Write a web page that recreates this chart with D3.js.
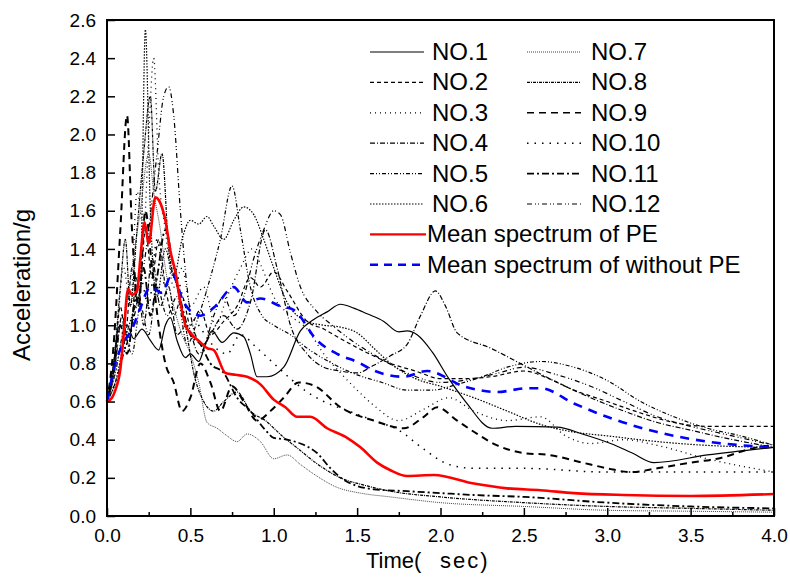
<!DOCTYPE html>
<html>
<head>
<meta charset="utf-8">
<script src="https://cdn.jsdelivr.net/npm/d3@7/dist/d3.min.js"></script>
<style>
  body { margin: 0; background: #fff; }
  svg text { font-family: "Liberation Sans", Arial, sans-serif; fill: #000; }
</style>
</head>
<body>
<svg width="790" height="588"></svg>
<script>
// Response spectra: [period (sec), acceleration (g)]
const no1 = [[0,0.6],[0.04,0.8],[0.07,0.99],[0.12,1.0],[0.16,0.93],[0.21,0.98],[0.26,0.92],[0.31,0.87],[0.35,1.0],[0.38,1.04],[0.42,0.92],[0.47,0.83],[0.5,0.85],[0.55,0.81],[0.59,0.9],[0.63,0.97],[0.69,0.91],[0.76,0.96],[0.82,0.94],[0.86,0.85],[0.9,0.73],[0.96,0.73],[1.06,0.78],[1.16,0.97],[1.24,1.03],[1.32,1.07],[1.4,1.11],[1.48,1.09],[1.56,1.06],[1.66,1.02],[1.75,0.965],[1.8,0.97],[1.86,0.95],[1.95,0.86],[2.05,0.72],[2.15,0.6],[2.31,0.46],[2.45,0.47],[2.7,0.466],[2.85,0.43],[3.02,0.38],[3.15,0.33],[3.28,0.28],[3.6,0.32],[4.0,0.36]];
const no2 = [[0,0.6],[0.04,0.75],[0.08,1.1],[0.11,0.95],[0.15,1.3],[0.19,1.1],[0.23,1.5],[0.27,1.25],[0.31,1.45],[0.35,1.2],[0.4,1.05],[0.45,1.15],[0.5,1.0],[0.56,1.08],[0.62,0.95],[0.7,1.02],[0.78,1.1],[0.86,1.25],[0.92,1.2],[1.0,1.28],[1.08,1.18],[1.2,1.02],[1.3,0.98],[1.4,0.93],[1.55,0.86],[1.7,0.8],[1.85,0.76],[2.0,0.72],[2.15,0.72],[2.3,0.73],[2.5,0.76],[2.65,0.72],[2.8,0.66],[3.0,0.6],[3.2,0.54],[3.4,0.49],[3.6,0.47],[4.0,0.47]];
const no3 = [[0,0.6],[0.05,0.85],[0.1,1.3],[0.14,1.1],[0.18,1.7],[0.22,1.5],[0.25,2.0],[0.28,2.4],[0.31,1.8],[0.35,1.5],[0.4,1.2],[0.45,1.3],[0.5,1.1],[0.58,1.2],[0.65,1.0],[0.72,1.15],[0.8,1.3],[0.87,1.4],[0.93,1.3],[1.0,1.15],[1.1,1.05],[1.2,0.98],[1.3,0.85],[1.4,0.75],[1.5,0.66],[1.6,0.58],[1.75,0.5],[1.9,0.56],[2.05,0.62],[2.2,0.55],[2.4,0.5],[2.6,0.52],[2.75,0.42],[2.9,0.38],[3.1,0.4],[3.3,0.37],[3.6,0.3],[4.0,0.23]];
const no4 = [[0,0.6],[0.05,0.8],[0.09,1.05],[0.13,0.9],[0.18,1.25],[0.22,1.0],[0.27,1.35],[0.32,1.1],[0.37,1.2],[0.42,0.95],[0.48,1.0],[0.55,0.85],[0.62,0.95],[0.7,1.05],[0.78,0.98],[0.86,1.12],[0.95,1.5],[1.02,1.3],[1.1,1.0],[1.2,0.85],[1.3,0.78],[1.4,0.76],[1.5,0.75],[1.6,0.79],[1.7,0.84],[1.8,0.9],[1.88,1.05],[1.97,1.18],[2.03,1.1],[2.1,0.96],[2.3,0.88],[2.5,0.79],[2.7,0.7],[2.9,0.62],[3.1,0.55],[3.3,0.49],[3.5,0.45],[3.7,0.41],[4.0,0.36]];
const no5 = [[0,0.6],[0.05,0.75],[0.1,0.95],[0.15,0.85],[0.2,1.1],[0.25,0.95],[0.3,1.2],[0.36,1.05],[0.42,1.15],[0.48,0.9],[0.55,1.05],[0.62,1.25],[0.68,1.45],[0.75,1.73],[0.8,1.5],[0.86,1.2],[0.93,1.05],[1.0,1.0],[1.1,0.95],[1.2,0.88],[1.35,0.8],[1.5,0.74],[1.65,0.7],[1.8,0.66],[1.95,0.66],[2.1,0.69],[2.25,0.73],[2.4,0.78],[2.6,0.81],[2.8,0.78],[3.0,0.71],[3.2,0.6],[3.4,0.52],[3.6,0.46],[3.8,0.42],[4.0,0.37]];
const no6 = [[0,0.6],[0.05,0.7],[0.1,0.9],[0.15,1.05],[0.2,1.2],[0.23,2.55],[0.26,1.6],[0.3,1.15],[0.35,1.4],[0.4,1.25],[0.45,1.45],[0.5,1.55],[0.55,1.53],[0.6,1.57],[0.64,1.52],[0.7,1.45],[0.76,1.55],[0.82,1.62],[0.88,1.58],[0.94,1.45],[1.0,1.3],[1.08,1.12],[1.2,1.02],[1.3,1.0],[1.4,0.99],[1.5,0.96],[1.6,0.88],[1.7,0.8],[1.85,0.72],[2.0,0.68],[2.2,0.62],[2.4,0.55],[2.6,0.48],[2.8,0.44],[3.0,0.42],[3.3,0.39],[3.6,0.37],[4.0,0.36]];
const no7 = [[0,0.6],[0.05,0.75],[0.1,1.0],[0.15,1.3],[0.2,1.6],[0.25,1.9],[0.28,1.7],[0.32,1.5],[0.35,1.3],[0.4,1.1],[0.45,0.95],[0.5,0.85],[0.55,0.7],[0.6,0.49],[0.66,0.46],[0.72,0.42],[0.78,0.39],[0.84,0.43],[0.92,0.39],[1.0,0.3],[1.08,0.32],[1.16,0.27],[1.24,0.22],[1.38,0.15],[1.52,0.12],[1.7,0.1],[2.0,0.07],[2.5,0.05],[3.0,0.03],[3.5,0.025],[4.0,0.02]];
const no8 = [[0,0.6],[0.04,0.8],[0.08,1.2],[0.11,1.45],[0.14,1.1],[0.18,1.5],[0.22,1.9],[0.26,2.2],[0.29,1.7],[0.33,1.9],[0.37,1.4],[0.42,1.2],[0.47,1.0],[0.52,0.75],[0.58,0.6],[0.64,0.55],[0.7,0.6],[0.78,0.65],[0.86,0.55],[0.95,0.5],[1.05,0.42],[1.15,0.35],[1.25,0.28],[1.4,0.2],[1.55,0.16],[1.7,0.13],[2.0,0.1],[2.5,0.07],[3.0,0.05],[3.5,0.04],[4.0,0.03]];
const no9 = [[0,0.6],[0.04,0.9],[0.08,1.5],[0.12,2.1],[0.15,1.5],[0.19,1.1],[0.23,1.6],[0.27,1.3],[0.31,1.0],[0.35,0.8],[0.4,0.7],[0.45,0.55],[0.5,0.62],[0.56,0.8],[0.62,0.7],[0.68,0.55],[0.75,0.68],[0.82,0.6],[0.9,0.5],[0.98,0.55],[1.06,0.62],[1.15,0.7],[1.25,0.68],[1.4,0.57],[1.6,0.5],[1.78,0.46],[1.9,0.52],[1.98,0.57],[2.1,0.5],[2.22,0.43],[2.34,0.37],[2.5,0.33],[2.65,0.32],[2.85,0.28],[3.0,0.25],[3.14,0.23],[3.3,0.25],[3.5,0.28],[3.66,0.3],[3.9,0.36],[4.0,0.37]];
const no10 = [[0,0.6],[0.05,0.7],[0.1,0.85],[0.15,1.0],[0.2,1.25],[0.25,1.1],[0.3,1.45],[0.35,1.2],[0.4,1.3],[0.47,1.1],[0.55,1.0],[0.63,0.9],[0.72,0.85],[0.8,0.95],[0.9,0.88],[1.0,0.8],[1.1,0.72],[1.2,0.65],[1.3,0.6],[1.45,0.55],[1.6,0.5],[1.75,0.45],[1.9,0.35],[2.05,0.27],[2.2,0.25],[2.5,0.25],[3.0,0.23],[3.5,0.23],[4.0,0.23]];
const no11 = [[0,0.6],[0.04,0.75],[0.08,1.0],[0.12,0.85],[0.17,1.15],[0.22,1.3],[0.26,1.05],[0.3,1.25],[0.35,1.5],[0.4,1.3],[0.45,1.1],[0.5,0.95],[0.56,0.9],[0.62,0.8],[0.7,0.75],[0.78,0.62],[0.86,0.55],[0.95,0.45],[1.0,0.41],[1.08,0.4],[1.16,0.38],[1.26,0.33],[1.34,0.25],[1.42,0.19],[1.6,0.14],[1.8,0.13],[2.0,0.12],[2.2,0.11],[2.5,0.1],[3.0,0.07],[3.5,0.05],[4.0,0.04]];
const no12 = [[0,0.6],[0.05,0.7],[0.1,0.85],[0.15,1.0],[0.2,1.2],[0.25,1.5],[0.3,1.9],[0.34,2.2],[0.37,2.25],[0.4,2.1],[0.44,1.6],[0.48,1.2],[0.53,0.95],[0.58,0.9],[0.64,1.05],[0.7,1.15],[0.76,1.05],[0.82,1.15],[0.88,1.35],[0.94,1.5],[1.0,1.6],[1.04,1.58],[1.1,1.38],[1.16,1.2],[1.25,1.08],[1.35,1.0],[1.5,0.9],[1.65,0.82],[1.8,0.75],[2.0,0.7],[2.2,0.72],[2.35,0.75],[2.5,0.78],[2.7,0.74],[2.9,0.68],[3.1,0.6],[3.3,0.52],[3.5,0.47],[3.7,0.43],[4.0,0.37]];
const meanPE = [[0,0.6],[0.03,0.62],[0.05,0.66],[0.08,0.77],[0.1,0.95],[0.126,1.19],[0.15,1.16],[0.18,1.18],[0.2,1.35],[0.225,1.54],[0.25,1.43],[0.29,1.67],[0.32,1.64],[0.35,1.55],[0.38,1.39],[0.41,1.28],[0.44,1.12],[0.47,1.0],[0.5,0.96],[0.56,0.91],[0.6,0.88],[0.64,0.87],[0.71,0.75],[0.77,0.74],[0.84,0.73],[0.92,0.69],[1.0,0.61],[1.07,0.57],[1.14,0.52],[1.22,0.52],[1.32,0.46],[1.44,0.41],[1.52,0.36],[1.62,0.28],[1.7,0.24],[1.8,0.21],[1.96,0.215],[2.2,0.17],[2.4,0.145],[2.6,0.135],[2.8,0.12],[3.1,0.11],[3.5,0.105],[4.0,0.115]];
const meanNoPE = [[0,0.6],[0.05,0.8],[0.1,0.91],[0.15,0.98],[0.2,1.09],[0.26,1.2],[0.33,1.17],[0.39,1.27],[0.46,1.12],[0.56,1.05],[0.65,1.1],[0.76,1.2],[0.84,1.12],[0.92,1.14],[1.04,1.1],[1.12,1.08],[1.26,0.92],[1.38,0.85],[1.52,0.8],[1.58,0.77],[1.78,0.73],[1.92,0.76],[2.14,0.68],[2.34,0.65],[2.52,0.67],[2.6,0.67],[2.8,0.59],[3.03,0.51],[3.3,0.44],[3.6,0.39],[4.0,0.36]];

const recordNames = ['NO.1','NO.2','NO.3','NO.4','NO.5','NO.6','NO.7','NO.8','NO.9','NO.10','NO.11','NO.12'];
const meanNames = ['Mean spectrum of PE', 'Mean spectrum of without PE'];
const xTicks = [0, 0.5, 1.0, 1.5, 2.0, 2.5, 3.0, 3.5, 4.0];
const yTicks = [0, 0.2, 0.4, 0.6, 0.8, 1.0, 1.2, 1.4, 1.6, 1.8, 2.0, 2.2, 2.4, 2.6];

// line look for each record
const styles = [
  { dash: null, w: 1.2, c: '#000' },
  { dash: '4,3', w: 1.2, c: '#000' },
  { dash: '1,4', w: 1.3, c: '#000' },
  { dash: '5,2,1,2', w: 1.2, c: '#000' },
  { dash: '4,2,1,2,1,2', w: 1.2, c: '#000' },
  { dash: '1.5,1.5', w: 1.2, c: '#000' },
  { dash: '1,1', w: 1, c: '#444' },
  { dash: '3,1,1,1', w: 1.2, c: '#000' },
  { dash: '7,5', w: 2, c: '#000' },
  { dash: '1.5,6', w: 1.5, c: '#000' },
  { dash: '7,3,2,3', w: 1.8, c: '#000' },
  { dash: '5,3,1,2,1,3', w: 1.2, c: '#000' }
];
const records = [no1, no2, no3, no4, no5, no6, no7, no8, no9, no10, no11, no12];

const svg = d3.select('svg');
const margin = { left: 107, right: 16, top: 20, bottom: 72 };
const width = 790 - margin.left - margin.right;
const height = 588 - margin.top - margin.bottom;

const x = d3.scaleLinear().domain([0, 4]).range([0, width]);
const y = d3.scaleLinear().domain([0, 2.6]).range([height, 0]);

const g = svg.append('g').attr('transform', `translate(${margin.left},${margin.top})`);

const line = d3.line()
  .x(d => x(d[0]))
  .y(d => y(d[1]))
  .curve(d3.curveMonotoneX);

// records
records.forEach((data, i) => {
  g.append('path')
    .datum(data)
    .attr('fill', 'none')
    .attr('stroke', styles[i].c)
    .attr('stroke-width', styles[i].w)
    .attr('stroke-dasharray', styles[i].dash)
    .attr('d', line);
});

// mean curves
g.append('path').datum(meanNoPE)
  .attr('fill', 'none').attr('stroke', '#0000ff').attr('stroke-width', 2.6)
  .attr('stroke-dasharray', '9,7').attr('d', line);
g.append('path').datum(meanPE)
  .attr('fill', 'none').attr('stroke', '#ff0000').attr('stroke-width', 2.6)
  .attr('d', line);

// axes (ticks inside)
const xAxis = g.append('g').attr('transform', `translate(0,${height})`)
  .call(d3.axisBottom(x).tickValues(xTicks).tickFormat(d3.format('.1f')).tickSizeInner(-8).tickSizeOuter(0).tickPadding(13));
const xMinor = g.append('g').attr('transform', `translate(0,${height})`)
  .call(d3.axisBottom(x).tickValues(d3.range(0.25, 4, 0.5)).tickFormat('').tickSizeInner(-4).tickSizeOuter(0));
const yAxis = g.append('g')
  .call(d3.axisLeft(y).tickValues(yTicks).tickFormat(d3.format('.1f')).tickSizeInner(-8).tickSizeOuter(0).tickPadding(11));

[xAxis, xMinor, yAxis].forEach(a => {
  a.select('.domain').remove();
  a.selectAll('line').attr('stroke', '#000').attr('stroke-width', 1.5);
  a.selectAll('text').style('font-size', '19px').attr('fill', '#000');
});

// frame
g.append('rect')
  .attr('width', width).attr('height', height)
  .attr('fill', 'none').attr('stroke', '#000').attr('stroke-width', 2);

// axis titles
svg.append('text')
  .attr('transform', 'translate(30,285) rotate(-90)')
  .attr('text-anchor', 'middle')
  .style('font-size', '24px')
  .text('Acceleration/g');
const xTitle = svg.append('text').attr('y', 568).style('font-size', '22px');
xTitle.append('tspan').attr('x', 366).text('Time(');
xTitle.append('tspan').attr('x', 440).style('letter-spacing', '2px').text('sec)');

// legend
const legend = svg.append('g');
const rowH = 30.4;
recordNames.forEach((name, i) => {
  const col = i < 6 ? 0 : 1;
  const row = i % 6;
  const x0 = col === 0 ? 370 : 527;
  const cy = 52 + row * rowH;
  legend.append('line')
    .attr('x1', x0).attr('x2', x0 + 54).attr('y1', cy).attr('y2', cy)
    .attr('stroke', styles[i].c).attr('stroke-width', Math.min(styles[i].w, 1.6))
    .attr('stroke-dasharray', styles[i].dash);
  legend.append('text')
    .attr('x', col === 0 ? 432 : 591).attr('y', cy + 8)
    .style('font-size', '24px')
    .text(name);
});
meanNames.forEach((name, i) => {
  const cy = 52 + (6 + i) * rowH;
  legend.append('line')
    .attr('x1', 370).attr('x2', 426).attr('y1', cy).attr('y2', cy)
    .attr('stroke', i === 0 ? '#ff0000' : '#0000ff').attr('stroke-width', 2.4)
    .attr('stroke-dasharray', i === 0 ? null : '8,6');
  legend.append('text')
    .attr('x', 427).attr('y', cy + 8)
    .style('font-size', '24px')
    .text(name);
});
</script>
</body>
</html>
